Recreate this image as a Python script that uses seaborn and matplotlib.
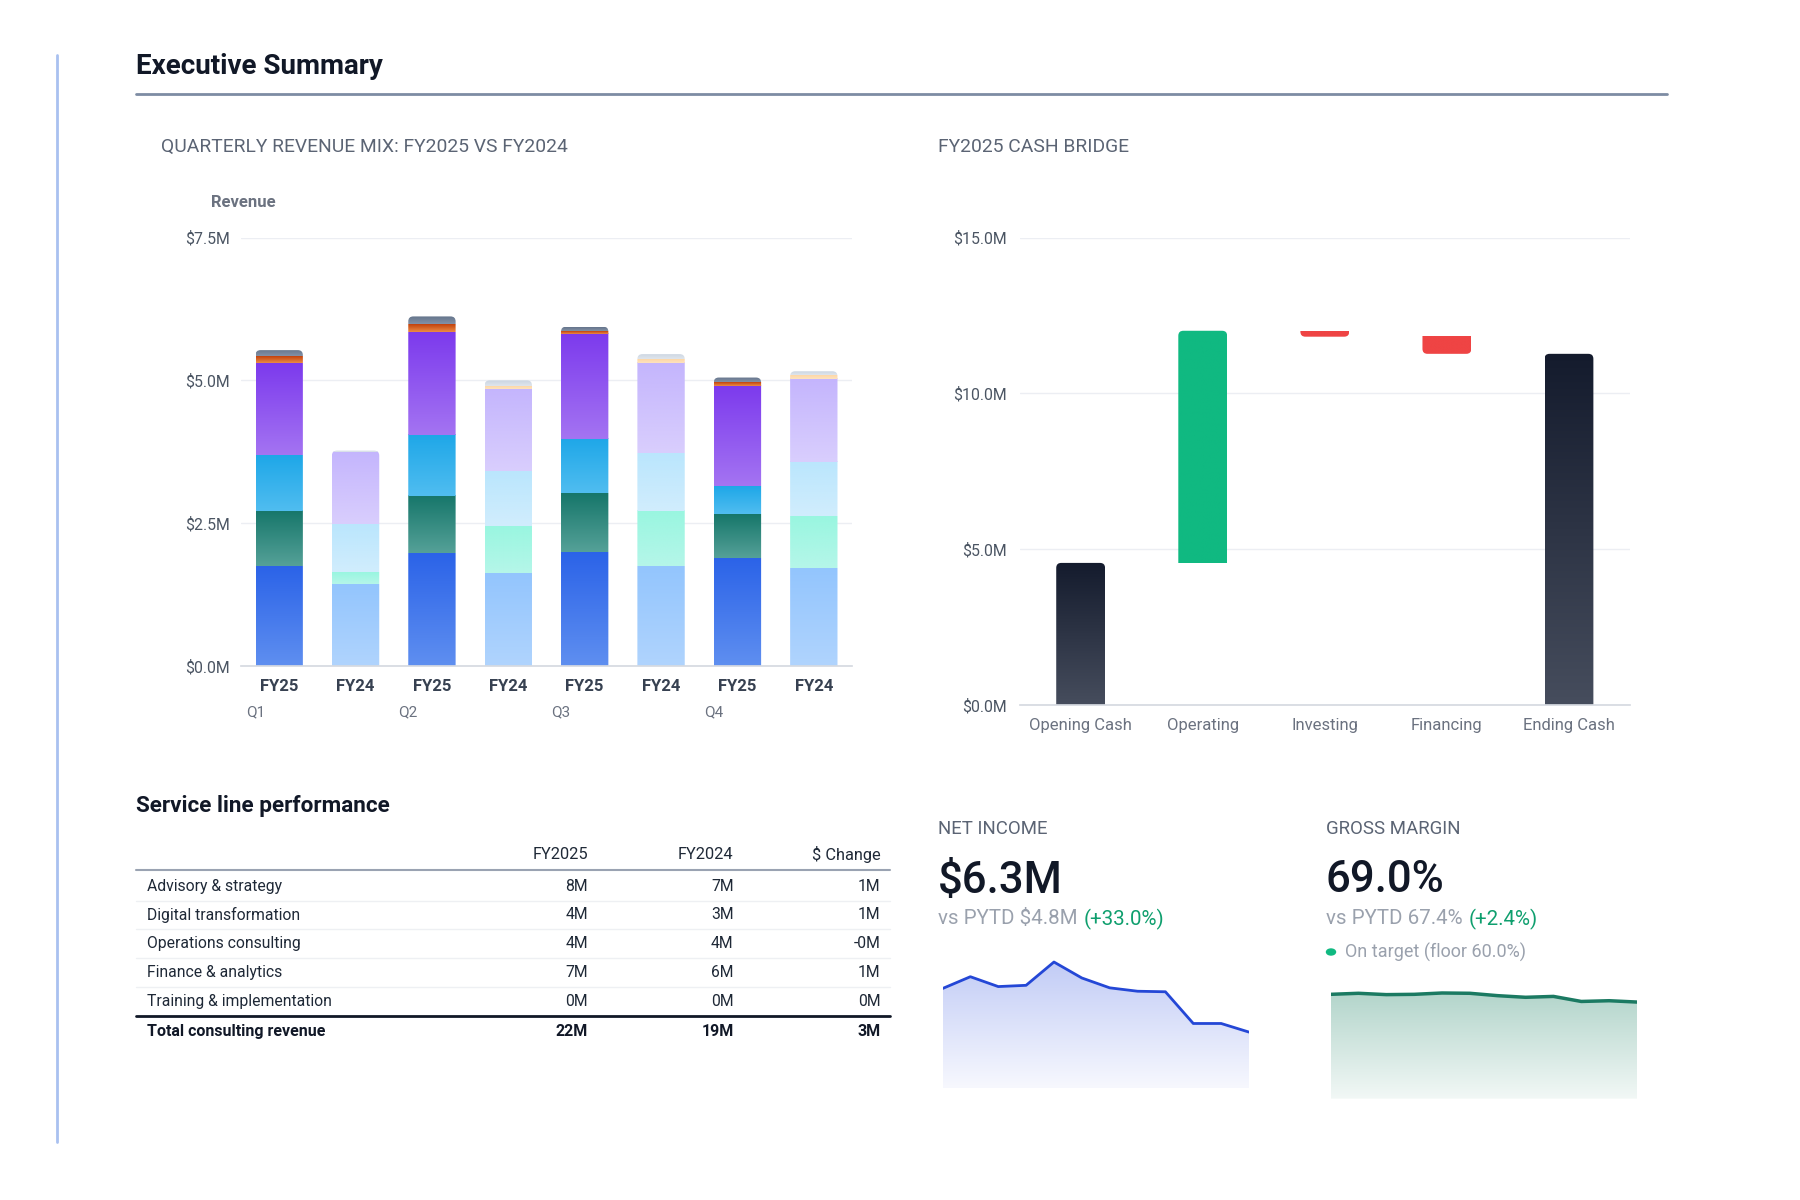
import numpy as np
import pandas as pd
import matplotlib
matplotlib.use("Agg")
import matplotlib.pyplot as plt
from matplotlib.colors import LinearSegmentedColormap
from matplotlib.lines import Line2D
from matplotlib.patches import FancyBboxPatch
import seaborn as sns

# ---------------- data ----------------
bar_ids = ["Q1 FY25", "Q1 FY24", "Q2 FY25", "Q2 FY24", "Q3 FY25", "Q3 FY24", "Q4 FY25", "Q4 FY24"]
bar_labels = ["FY25", "FY24", "FY25", "FY24", "FY25", "FY24", "FY25", "FY24"]
quarters = ["Q1", "Q2", "Q3", "Q4"]
series_names = ["Advisory & strategy", "Digital transformation", "Operations consulting",
                "Finance & analytics", "Training & implementation", "Other"]
advisory = [1.75, 1.43, 1.97, 1.62, 1.99, 1.75, 1.89, 1.71]
digital = [0.97, 0.21, 1.00, 0.83, 1.03, 0.97, 0.77, 0.91]
operations = [0.98, 0.84, 1.07, 0.96, 0.95, 1.01, 0.49, 0.95]
finance = [1.61, 1.27, 1.80, 1.44, 1.85, 1.58, 1.76, 1.46]
training = [0.11, 0.00, 0.14, 0.05, 0.05, 0.06, 0.06, 0.07]
other = [0.11, 0.02, 0.14, 0.10, 0.07, 0.09, 0.08, 0.06]
rev_ticks = [0.0, 2.5, 5.0, 7.5]

cash_labels = ["Opening Cash", "Operating", "Investing", "Financing", "Ending Cash"]
opening_cash = 4.56
cash_flows = [7.45, -0.19, -0.55]
cash_ticks = [0.0, 5.0, 10.0, 15.0]

table_cols = ["FY2025", "FY2024", "$ Change"]
table_rows = ["Advisory & strategy", "Digital transformation", "Operations consulting",
              "Finance & analytics", "Training & implementation"]
fy2025_col = ["8M", "4M", "4M", "7M", "0M"]
fy2024_col = ["7M", "3M", "4M", "6M", "0M"]
change_col = ["1M", "1M", "-0M", "1M", "0M"]
total_row = ["Total consulting revenue", "22M", "19M", "3M"]

ni_monthly = [0.555, 0.621, 0.566, 0.573, 0.703, 0.614, 0.559, 0.540, 0.537, 0.360, 0.360, 0.312]
gm_monthly = [70.2, 70.9, 70.0, 70.2, 71.1, 70.9, 69.3, 68.2, 68.8, 65.4, 65.9, 65.0]

# ---------------- style ----------------
sns.set_theme(style="white")
plt.rcParams["font.family"] = ["Roboto", "DejaVu Sans"]

W, H = 1800, 1200
fig = plt.figure(figsize=(18, 12), dpi=100)
fig.patch.set_facecolor("white")


def fx(x):
    return x / W


def fy(y):
    return 1 - y / H


def px_axes(l, t, r, b):
    return fig.add_axes([fx(l), fy(b), (r - l) / W, (b - t) / H])


def px_scale(ax):
    o = ax.transData.transform((0, 0))
    px = ax.transData.transform((1, 0))[0] - o[0]
    py = ax.transData.transform((0, 1))[1] - o[1]
    return px, py


def rounded_clip(ax, x0, x1, y0, y1, round_top=True, rpx=5):
    px, py = px_scale(ax)
    rx = rpx / px
    m = 3 * rpx / py
    if round_top:
        by0, by1 = y0 - m, y1
    else:
        by0, by1 = y0, y1 + m
    fb = FancyBboxPatch((x0, by0), x1 - x0, by1 - by0,
                        boxstyle=f"round,pad=0,rounding_size={rx}",
                        mutation_aspect=px / py, transform=ax.transData,
                        facecolor="none", edgecolor="none")
    ax.add_patch(fb)
    return fb


def grad_fill(ax, patch, top, bottom, clip):
    bb = patch.get_bbox()
    y0, y1 = min(bb.y0, bb.y1), max(bb.y0, bb.y1)
    patch.set_facecolor("none")
    patch.set_edgecolor("none")
    if y1 - y0 <= 0:
        return
    cmap = LinearSegmentedColormap.from_list("g", [top, bottom])
    grad = np.linspace(0, 1, 256).reshape(-1, 1)
    im = ax.imshow(grad, cmap=cmap, extent=[bb.x0, bb.x1, y0, y1], aspect="auto",
                   origin="upper", zorder=patch.get_zorder() + 0.1, interpolation="bilinear")
    im.set_clip_path(clip)


TXT = "#111827"
GRAY = "#5b6474"
TICK = "#4b5563"
GRID = "#eceef3"

# frame decorations
fig.add_artist(Line2D([fx(57), fx(57)], [fy(55), fy(1142)], color="#a9c1f0", lw=2))
fig.text(fx(135.5), fy(66), "Executive Summary", fontsize=20, fontweight="bold",
         color=TXT, va="center", ha="left")
fig.add_artist(Line2D([fx(135.5), fx(1667)], [fy(94), fy(94)], color="#7d8ca3", lw=2))
fig.text(fx(160.7), fy(146.5), "QUARTERLY REVENUE MIX: FY2025 VS FY2024", fontsize=13.9,
         color=GRAY, va="center", ha="left")
fig.text(fx(938), fy(146.5), "FY2025 CASH BRIDGE", fontsize=13.9, color=GRAY,
         va="center", ha="left")

# ---------------- stacked revenue bars ----------------
ax = px_axes(241, 237.6, 852, 666)
fy25_cols = [("#2b63e8", "#5f8ff0"), ("#16766a", "#55a198"), ("#1ea7e8", "#50bdf0"),
             ("#7c3aed", "#a474f2"), ("#c2410c", "#eb8c45"), ("#64748b", "#8391a6")]
fy24_cols = [("#93c5fd", "#b0d4fe"), ("#99f6e0", "#b5f6e9"), ("#bae6fd", "#d1edfd"),
             ("#c4b5fd", "#d9cefd"), ("#fdd7a6", "#fee3bf"), ("#cbd5e1", "#dfe5ec")]
series_vals = [advisory, digital, operations, finance, training, other]
cum = np.zeros(len(bar_ids))
seg_patches = []
for si, vals in enumerate(series_vals):
    n0 = len(ax.patches)
    df = pd.DataFrame({"bar": bar_ids, "value": vals})
    sns.barplot(data=df, x="bar", y="value", order=bar_ids, bottom=cum, width=0.62,
                color="#888888", errorbar=None, ax=ax, saturation=1)
    seg_patches.append(list(ax.patches[n0:]))
    cum = cum + np.array(vals)

ax.set_xlim(-0.5, len(bar_ids) - 0.5)
ax.set_ylim(0, 7.5)
clips = []
for bi in range(len(bar_ids)):
    bb = seg_patches[0][bi].get_bbox()
    clips.append(rounded_clip(ax, bb.x0, bb.x1, 0, cum[bi], True, 5))
for si, plist in enumerate(seg_patches):
    for bi, p in enumerate(plist):
        top, bot = (fy25_cols if bi % 2 == 0 else fy24_cols)[si]
        grad_fill(ax, p, top, bot, clips[bi])

ax.set_yticks(rev_ticks)
ax.set_yticklabels([f"${v:.1f}M" for v in rev_ticks])
ax.set_xticks(range(len(bar_ids)))
ax.set_xticklabels(bar_labels, fontweight="bold")
ax.set_xlabel("")
ax.set_ylabel("")
ax.tick_params(axis="x", length=0, pad=9.5, labelsize=12, colors="#374151")
ax.tick_params(axis="y", length=0, pad=8, labelsize=11.4, colors=TICK)
ax.grid(axis="y", color=GRID, lw=1)
ax.set_axisbelow(True)
for s in ["top", "right", "left"]:
    ax.spines[s].set_visible(False)
ax.spines["bottom"].set_color("#d6dae1")
for qi, q in enumerate(quarters):
    ax.text(qi * 2 - 0.31, -0.1074, q, transform=ax.get_xaxis_transform(), ha="center",
            va="center", fontsize=11, color="#6b7280")
ax.text(0.003, 1.083, "Revenue", transform=ax.transAxes, ha="center", va="center",
        fontsize=12, fontweight="bold", color="#6b7280")

# ---------------- cash bridge ----------------
axw = px_axes(1019.6, 237.6, 1630, 705)
running = opening_cash
bottoms = [0.0]
heights = [opening_cash]
for f in cash_flows:
    bottoms.append(running)
    heights.append(f)
    running += f
bottoms.append(0.0)
heights.append(running)
dfc = pd.DataFrame({"step": cash_labels, "value": heights})
n0 = len(axw.patches)
sns.barplot(data=dfc, x="step", y="value", order=cash_labels, bottom=bottoms, width=0.4,
            color="#888888", errorbar=None, ax=axw, saturation=1)
cash_patches = list(axw.patches[n0:])
axw.set_xlim(-0.5, len(cash_labels) - 0.5)
axw.set_ylim(0, 15)
for i, p in enumerate(cash_patches):
    bb = p.get_bbox()
    y0, y1 = min(bb.y0, bb.y1), max(bb.y0, bb.y1)
    if i == 0 or i == len(cash_labels) - 1:
        c = rounded_clip(axw, bb.x0, bb.x1, y0, y1, True, 5)
        grad_fill(axw, p, "#141b2d", "#464d5d", c)
    elif heights[i] >= 0:
        c = rounded_clip(axw, bb.x0, bb.x1, y0, y1, True, 5)
        grad_fill(axw, p, "#10b981", "#10b981", c)
    else:
        c = rounded_clip(axw, bb.x0, bb.x1, y0, y1, False, 5)
        grad_fill(axw, p, "#ef4444", "#ef4444", c)
axw.set_yticks(cash_ticks)
axw.set_yticklabels([f"${v:.1f}M" for v in cash_ticks])
axw.set_xlabel("")
axw.set_ylabel("")
axw.tick_params(axis="x", length=0, pad=9.5, labelsize=12, colors="#6b7280")
axw.tick_params(axis="y", length=0, pad=9, labelsize=11.4, colors=TICK)
axw.grid(axis="y", color=GRID, lw=1)
axw.set_axisbelow(True)
for s in ["top", "right", "left"]:
    axw.spines[s].set_visible(False)
axw.spines["bottom"].set_color("#d6dae1")

# ---------------- table ----------------
fig.text(fx(135.5), fy(806), "Service line performance", fontsize=16.2, fontweight="bold",
         color=TXT, va="center", ha="left")
col_right = [588, 733.5, 880.5]
for c, x in zip(table_cols, col_right):
    fig.text(fx(x), fy(854.5), c, fontsize=11.8, color="#1f2937", ha="right", va="center")
fig.add_artist(Line2D([fx(135.5), fx(890)], [fy(870), fy(870)], color="#9aa3b2", lw=1.5))
row_y = [886.5, 914.5, 943.5, 972.5, 1001.5]
for i, (name, a, b, c) in enumerate(zip(table_rows, fy2025_col, fy2024_col, change_col)):
    y = row_y[i]
    fig.text(fx(147), fy(y), name, fontsize=11.3, color="#1f2937", ha="left", va="center")
    for v, x in zip([a, b, c], col_right):
        fig.text(fx(x), fy(y), v, fontsize=11.3, color="#1f2937", ha="right", va="center")
    if i < len(table_rows) - 1:
        ys = (row_y[i] + row_y[i + 1]) / 2
        fig.add_artist(Line2D([fx(135.5), fx(890)], [fy(ys), fy(ys)], color="#eef0f3", lw=1))
fig.add_artist(Line2D([fx(135.5), fx(890)], [fy(1016), fy(1016)], color="#111827", lw=2))
fig.text(fx(147), fy(1031.5), total_row[0], fontsize=11.5, fontweight="bold", color=TXT,
         ha="left", va="center")
for v, x in zip(total_row[1:], col_right):
    fig.text(fx(x), fy(1031.5), v, fontsize=11.5, fontweight="bold", color=TXT,
             ha="right", va="center")

# ---------------- KPI cards ----------------
fig.canvas.draw()
renderer = fig.canvas.get_renderer()


def two_tone(x, y, t1, c1, t2, c2, size):
    a = fig.text(fx(x), fy(y), t1, fontsize=size, color=c1, ha="left", va="center")
    bb = a.get_window_extent(renderer=renderer)
    fig.text(fx(x) + (bb.width + 6) / W, fy(y), t2, fontsize=size, color=c2,
             ha="left", va="center")


fig.text(fx(938), fy(829.5), "NET INCOME", fontsize=13.4, color=GRAY, ha="left", va="center")
fig.text(fx(938), fy(880.5), "$6.3M", fontsize=31.5, color=TXT, ha="left", va="center",
         fontweight="medium")
two_tone(938, 919, "vs PYTD $4.8M", "#9aa1ad", "(+33.0%)", "#0f9f6e", 14.8)

fig.text(fx(1326), fy(829.5), "GROSS MARGIN", fontsize=13.4, color=GRAY, ha="left", va="center")
fig.text(fx(1326), fy(880.5), "69.0%", fontsize=31.5, color=TXT, ha="left", va="center",
         fontweight="medium")
two_tone(1326, 919, "vs PYTD 67.4%", "#9aa1ad", "(+2.4%)", "#0f9f6e", 14.8)
fig.add_artist(plt.Circle((fx(1331), fy(952)), 0.0025, transform=fig.transFigure,
                          color="#10b981"))
fig.text(fx(1345), fy(952), "On target (floor 60.0%)", fontsize=13, color="#9aa1ad",
         ha="left", va="center")


def sparkline(axs, vals, ymax, line_color, top_col, bot_col, lw):
    d = pd.DataFrame({"m": np.arange(len(vals)), "v": vals})
    poly = axs.fill_between(d["m"], 0, d["v"], color="none", lw=0)
    cmap = LinearSegmentedColormap.from_list("g", [top_col, bot_col])
    grad = np.linspace(0, 1, 256).reshape(-1, 1)
    im = axs.imshow(grad, cmap=cmap, extent=[0, len(vals) - 1, 0, max(vals)], aspect="auto",
                    origin="upper", zorder=1)
    im.set_clip_path(poly.get_paths()[0], poly.get_transform())
    sns.lineplot(data=d, x="m", y="v", ax=axs, color=line_color, lw=lw, zorder=3)
    axs.set_xlim(0, len(vals) - 1)
    axs.set_ylim(0, ymax)
    axs.axis("off")


ax_ni = px_axes(942.5, 953.6, 1249, 1088)
sparkline(ax_ni, ni_monthly, 0.75, "#2447d6", "#c2ccf6", "#f7f8fe", 2)
ax_gm = px_axes(1330.6, 987.2, 1637, 1098.6)
sparkline(ax_gm, gm_monthly, 75, "#1b7a62", "#b3d5cb", "#f2f8f6", 2.5)

fig.savefig("out.png", dpi=100, facecolor="white")
